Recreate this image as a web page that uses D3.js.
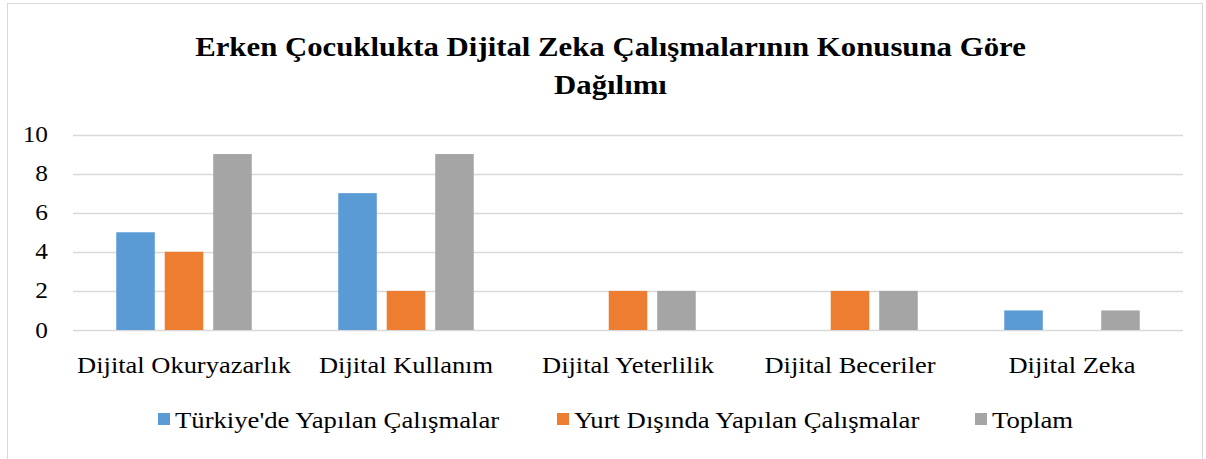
<!DOCTYPE html>
<html><head><meta charset="utf-8">
<script src="https://cdn.jsdelivr.net/npm/d3@7"></script>
<style>body{margin:0;background:#fff}svg{display:block}text{font-family:"Liberation Serif",serif;fill:#000}</style>
</head><body><svg id="c" width="1206" height="459"></svg>
<script>
const categories = ["Dijital Okuryazarlık","Dijital Kullanım","Dijital Yeterlilik","Dijital Beceriler","Dijital Zeka"];
const seriesNames = ["Türkiye'de Yapılan Çalışmalar","Yurt Dışında Yapılan Çalışmalar","Toplam"];
const turkiye = [5,7,0,0,1];
const yurtDisi = [4,2,2,2,0];
const toplam = [9,9,2,2,1];
const yTicks = [0,2,4,6,8,10];
const colors = ["#5B9BD5","#ED7D31","#A5A5A5"];
const titleLines = ["Erken Çocuklukta Dijital Zeka Çalışmalarının Konusuna Göre","Dağılımı"];

const series = [turkiye, yurtDisi, toplam];
const svg = d3.select("#c");
svg.append("rect").attr("x",7.5).attr("y",3.5).attr("width",1195).attr("height",470)
  .attr("fill","#fff").attr("stroke","#D9D9D9").attr("stroke-width",1);

function widen(sel, k){
  sel.each(function(){ const w=this.getComputedTextLength(); d3.select(this).attr("textLength",w*k).attr("lengthAdjust","spacingAndGlyphs"); });
}

const x = d3.scaleBand().domain(categories).range([73,1183]);
const y = d3.scaleLinear().domain([0,10]).range([330,134.5]);
const inner = d3.scaleBand().domain([0,1,2]).range([0,135.5]).paddingInner(0.205);

svg.append("g").selectAll("line").data(yTicks).join("line")
  .attr("x1",73).attr("x2",1183).attr("y1",d=>Math.round(y(d))+0.5).attr("y2",d=>Math.round(y(d))+0.5)
  .attr("stroke","#D9D9D9").attr("stroke-width",1.5);

widen(svg.append("g").selectAll("text").data(yTicks).join("text")
  .attr("x",48).attr("y",d=>y(d)+7.5).attr("text-anchor","end").attr("font-size",23).text(d=>d), 1.1);

series.forEach((s,si)=>{
  svg.append("g").selectAll("rect").data(s).join("rect")
    .attr("x",(d,i)=>x(categories[i])+x.bandwidth()/2-135.5/2+inner(si))
    .attr("width",inner.bandwidth())
    .attr("y",d=>y(d)).attr("height",d=>y(0)-y(d))
    .attr("fill",colors[si]);
});

widen(svg.append("g").selectAll("text").data(categories).join("text")
  .attr("x",d=>x(d)+x.bandwidth()/2).attr("y",373).attr("text-anchor","middle")
  .attr("font-size",23).text(d=>d), 1.15);

widen(svg.append("g").selectAll("text").data(titleLines).join("text")
  .attr("x",610.5).attr("y",(d,i)=>56+i*38).attr("text-anchor","middle")
  .attr("font-size",27).attr("font-weight","bold").text(d=>d), 1.14);

const legX = [158,557,975];
const lg = svg.append("g").selectAll("g").data(seriesNames).join("g")
  .attr("transform",(d,i)=>`translate(${legX[i]},0)`);
lg.append("rect").attr("x",0).attr("y",413).attr("width",12).attr("height",12).attr("fill",(d,i)=>colors[i]);
widen(lg.append("text").attr("x",17).attr("y",428).attr("font-size",23).text(d=>d), 1.16);
</script></body></html>
